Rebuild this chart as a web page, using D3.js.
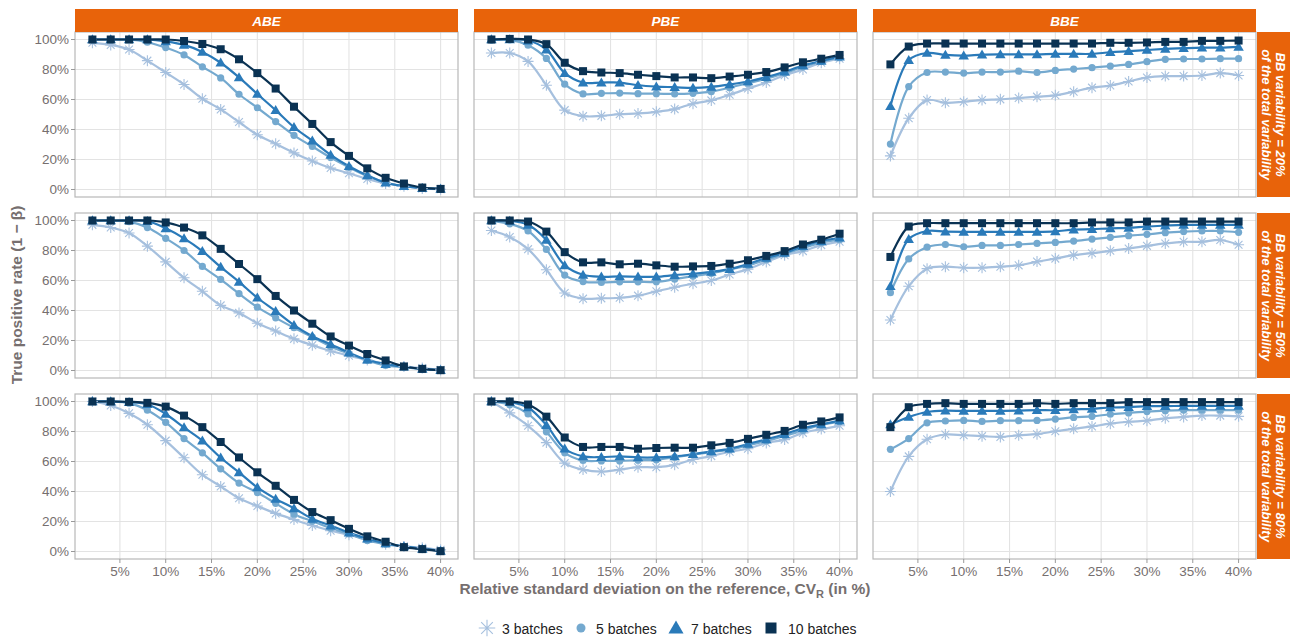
<!DOCTYPE html>
<html>
<head>
<meta charset="utf-8">
<script src="https://cdn.jsdelivr.net/npm/d3@7"></script>
<style>
  body { margin: 0; background: #fff; }
  svg { font-family: "Liberation Sans", Arial, sans-serif; }
</style>
</head>
<body>
<div id="chart"></div>
<script>
// CV on the reference (%)
const cvValues = [2, 4, 6, 8, 10, 12, 14, 16, 18, 20, 22, 24, 26, 28, 30, 32, 34, 36, 38, 40];
const methods = ["ABE", "PBE", "BBE"];
const bbLevels = ["20%", "50%", "80%"];
const batches = ["3 batches", "5 batches", "7 batches", "10 batches"];
const yTicks = [0, 20, 40, 60, 80, 100];
const xTicks = [5, 10, 15, 20, 25, 30, 35, 40];

// ABE, BB = 20%
const abe20_3  = [97.8, 96.4, 93.3, 85.9, 78, 70, 60.5, 53.4, 45, 36.5, 30.5, 24.4, 19, 14.3, 10.8, 7, 4, 2.2, 0.7, 0.2];
const abe20_5  = [100, 100, 100, 98.2, 94.6, 89.7, 81.8, 74.4, 63.5, 54.5, 45.3, 36.1, 28.7, 21.3, 14.8, 9, 4.7, 2.2, 1.1, 0.4];
const abe20_7  = [100, 100, 100, 100, 98.7, 96.4, 91.7, 84.5, 74.7, 63.7, 52.9, 41.5, 32.5, 23.1, 15.5, 9.4, 4.5, 2.2, 0.9, 0.4];
const abe20_10 = [100, 100, 100, 100, 100, 99, 97, 93.5, 86.8, 77.6, 67.3, 55.2, 43.7, 31.6, 22.4, 14.1, 7.8, 4, 1.3, 0.4];
// PBE, BB = 20%
const pbe20_3  = [91, 91, 85.4, 69.5, 52.9, 48.9, 49.1, 50.2, 50.7, 51.8, 53.6, 57.2, 59.4, 63.2, 67.3, 71.3, 76.2, 80, 84.5, 87.2];
const pbe20_5  = [99.6, 99.8, 96.2, 87.4, 70.2, 63.7, 64.1, 64.3, 63.9, 63.9, 63.7, 64.1, 65.2, 67.9, 70.9, 73.8, 77.6, 81.8, 85.4, 87.9];
const pbe20_7  = [100, 100, 99.3, 93.3, 77.6, 71.3, 71.3, 71.3, 69.5, 68.6, 68.2, 67.7, 68.4, 70, 72, 74.9, 78.5, 82.7, 85.7, 88.6];
const pbe20_10 = [100, 100.4, 100, 96.9, 84.5, 78.9, 78, 77.6, 76.5, 75.6, 74.7, 74.7, 74.2, 75.3, 76.5, 78.3, 81.4, 84.8, 87.2, 89.7];
// BBE, BB = 20%
const bbe20_3  = [22.4, 47.5, 59.6, 57.8, 58.5, 59.6, 60.1, 61, 61.9, 62.8, 65.2, 67.9, 69.3, 72, 74.7, 75.6, 75.6, 76, 77.6, 76];
const bbe20_5  = [30.3, 68.6, 78, 78.3, 77.6, 78.3, 78.3, 78.9, 78, 79.4, 80.3, 81.2, 82.3, 83.4, 85.2, 86.8, 87, 87, 87.2, 87.2];
const bbe20_7  = [55.6, 86.3, 91, 89.7, 89.2, 89.9, 90.1, 90.1, 90.1, 90.4, 90.4, 90.4, 91.5, 92.2, 93, 93.7, 94.2, 94.6, 94.6, 95.1];
const bbe20_10 = [83.4, 95.3, 97.3, 97.3, 97.3, 97.3, 97.3, 97.3, 97.3, 97.3, 97.3, 97.3, 97.8, 97.8, 98, 98.4, 98.4, 99.1, 99.1, 99.3];

// ABE, BB = 50%
const abe50_3  = [97.1, 95.3, 91.7, 82.9, 72.4, 61.8, 52.8, 43.4, 38.4, 31.5, 26.3, 21.1, 16.9, 13, 9.9, 7, 4.5, 2.7, 1.6, 0.4];
const abe50_5  = [99.8, 100, 99.3, 95.3, 88.1, 80, 69.4, 60.7, 51.2, 42.2, 35.1, 28.5, 22.2, 16, 11.2, 6.7, 3.4, 2.2, 0.9, 0.2];
const abe50_7  = [100, 100, 100, 99.6, 94.8, 88.1, 79.6, 69, 59.1, 48.5, 39.6, 30.3, 22.9, 17.5, 11.9, 7.2, 4.3, 2.5, 1.1, 0.2];
const abe50_10 = [100, 100, 100, 100, 98.7, 95.3, 90.1, 81.1, 71, 60.9, 49.7, 40, 31.2, 22.7, 16.6, 11, 6.7, 2.7, 1.1, 0.2];
// PBE, BB = 50%
const pbe50_3  = [93.3, 89, 80.9, 67.2, 51.7, 47.9, 48.1, 48.5, 49.9, 52.8, 55.5, 57.8, 60, 64, 67.6, 72.4, 76.9, 79.6, 83.6, 85.8];
const pbe50_5  = [99.8, 97.8, 93, 80.7, 63.6, 59.3, 58.7, 59.1, 59.1, 59.1, 60.9, 62.9, 64.7, 67.4, 70.1, 73.9, 77.8, 81.6, 85.2, 87.2];
const pbe50_7  = [100, 99.8, 97.1, 87, 70.1, 63.8, 62.5, 62.7, 62.5, 62.5, 63.6, 64.5, 65.8, 67.6, 71, 75.1, 78.4, 82.9, 86.3, 88.5];
const pbe50_10 = [100, 100, 99.3, 92.6, 78.9, 72.1, 72.1, 70.8, 71.2, 70.1, 69.2, 69.4, 69.7, 71.2, 73.5, 76.4, 79.6, 84, 87.2, 91.2];
// BBE, BB = 50%
const bbe50_3  = [33.7, 56.2, 67.9, 69.2, 68.5, 68.5, 69.2, 70.1, 72.6, 74.6, 76.9, 78.2, 79.8, 81.3, 83.1, 84.7, 85.8, 85.8, 87, 83.8];
const bbe50_5  = [51.9, 74.4, 82.2, 84, 82.5, 83.4, 83.4, 84, 84.7, 85.4, 86.3, 87.6, 88.8, 89.9, 90.8, 91.9, 92.6, 93, 93, 92.1];
const bbe50_7  = [56.2, 87.6, 93, 92.6, 92.4, 92.4, 92.4, 92.4, 92.4, 92.8, 93.9, 94.2, 94.8, 95.1, 96, 96.6, 97.1, 97.1, 97.1, 97.1];
const bbe50_10 = [75.7, 96, 98.2, 98.2, 98.2, 98.2, 98.2, 98.2, 98.2, 98.2, 98.2, 98.7, 98.7, 98.7, 99.3, 99.3, 99.3, 99.3, 99.3, 99.3];

// ABE, BB = 80%
const abe80_3  = [100, 97.3, 92.1, 84.5, 73.9, 62.5, 51.2, 43.4, 35.5, 30.3, 25.4, 21.3, 17.3, 13.9, 11.2, 8.3, 4.9, 3.4, 2.5, 1.1];
const abe80_5  = [100, 100, 98.9, 94.2, 86.1, 75.3, 65.8, 55.1, 45.6, 39.3, 32.1, 24.9, 20.2, 15.5, 11.7, 7.4, 4.9, 3.4, 1.8, 0.7];
const abe80_7  = [100, 100, 99.6, 98.2, 91.7, 82.7, 73.9, 62.5, 52.8, 42.7, 35.1, 28.8, 21.8, 17.3, 12.6, 8.5, 5.4, 3.4, 1.8, 0.4];
const abe80_10 = [100, 100, 99.8, 99.1, 96.6, 90.6, 82.9, 73, 62.7, 52.8, 43.8, 34.4, 26.3, 20.9, 15.1, 10.1, 6.5, 2.9, 1.6, 0.2];
// PBE, BB = 80%
const pbe80_3  = [100, 92.4, 83.8, 72.6, 58.9, 54.6, 53.3, 54.6, 56.2, 56.2, 57.8, 61.3, 63.6, 66.5, 68.5, 72.4, 74.6, 79.1, 81.6, 83.8];
const pbe80_5  = [100, 97.8, 91.7, 79.8, 65.8, 60.7, 60.4, 60.4, 60.9, 61.1, 62.9, 64.5, 66.3, 67.9, 70.8, 73.7, 77.1, 80.7, 84.3, 86.5];
const pbe80_7  = [100, 99.6, 96, 84.3, 68.5, 63.4, 62.9, 63.4, 62.7, 62.7, 63.4, 64.9, 66.7, 68.5, 71.7, 74.8, 78.2, 82.2, 84.7, 87.2];
const pbe80_10 = [100, 100, 98, 89.9, 76, 69.7, 69.7, 69.7, 68.5, 69, 69.2, 69.2, 70.8, 72.4, 75.1, 77.8, 80.4, 84.5, 86.7, 89.4];
// BBE, BB = 80%
const bbe80_3  = [40, 63.4, 74.8, 78, 77.5, 76.9, 76.4, 77.5, 78.2, 80.2, 81.8, 83.4, 85.2, 86.5, 87.2, 88.8, 89.7, 90.6, 90.6, 90.1];
const bbe80_5  = [68.1, 75.3, 85.8, 87, 87.4, 86.7, 87.2, 87.2, 87.4, 88.3, 89.4, 90.1, 91.5, 92.4, 93.3, 93.9, 94.2, 94.2, 94.2, 94.2];
const bbe80_7  = [84.7, 89.7, 93, 93.9, 93.7, 93.7, 93.7, 93.9, 94.2, 94.2, 94.8, 95.1, 96, 96.2, 96.9, 96.9, 97.1, 97.1, 97.1, 97.1];
const bbe80_10 = [82.9, 96.2, 98.4, 98.9, 98.4, 98.4, 98.4, 98.4, 98.9, 98.4, 98.9, 98.9, 98.9, 99.6, 99.6, 99.6, 99.6, 99.6, 99.6, 99.6];

const panelSeries = {
  "ABE|20%": [abe20_3, abe20_5, abe20_7, abe20_10],
  "PBE|20%": [pbe20_3, pbe20_5, pbe20_7, pbe20_10],
  "BBE|20%": [bbe20_3, bbe20_5, bbe20_7, bbe20_10],
  "ABE|50%": [abe50_3, abe50_5, abe50_7, abe50_10],
  "PBE|50%": [pbe50_3, pbe50_5, pbe50_7, pbe50_10],
  "BBE|50%": [bbe50_3, bbe50_5, bbe50_7, bbe50_10],
  "ABE|80%": [abe80_3, abe80_5, abe80_7, abe80_10],
  "PBE|80%": [pbe80_3, pbe80_5, pbe80_7, pbe80_10],
  "BBE|80%": [bbe80_3, bbe80_5, bbe80_7, bbe80_10]
};

const colors = ["#a6c0de", "#74a9cf", "#2a7ab9", "#0a3253"];
const shapes = ["asterisk", "circle", "triangle", "square"];

const W = 1290, H = 638;
const panelLeft = [75, 474, 873];
const panelTop = [32, 213, 394];
const pw = 383, ph = 165;
const textCol = "#766f6f";
const orange = "#e8630a";

const svg = d3.select("#chart").append("svg")
  .attr("width", W).attr("height", H);

const x = d3.scaleLinear().domain([0.1, 41.9]).range([0, pw]);
const y = d3.scaleLinear().domain([-5, 105]).range([ph, 0]);

// draws a marker shape centred on 0,0
function drawMarker(g, shape, color, s) {
  if (shape === "circle") {
    g.append("circle").attr("r", s * 0.45).attr("fill", color);
  } else if (shape === "square") {
    g.append("rect").attr("x", -s / 2).attr("y", -s / 2)
      .attr("width", s).attr("height", s).attr("fill", color);
  } else if (shape === "triangle") {
    const h = s * 0.95;
    g.append("path")
      .attr("d", `M0,${-h * 0.6}L${s * 0.58},${h * 0.45}L${-s * 0.58},${h * 0.45}Z`)
      .attr("fill", color);
  } else {
    const r = s * 0.55, d = r * 0.7071;
    g.append("path")
      .attr("d", `M${-r},0H${r}M0,${-r}V${r}M${-d},${-d}L${d},${d}M${-d},${d}L${d},${-d}`)
      .attr("stroke", color).attr("stroke-width", 1.1).attr("fill", "none");
  }
}

const line = d3.line()
  .x((d, i) => x(cvValues[i]))
  .y(d => y(d))
  .curve(d3.curveCatmullRom.alpha(0.5));

const markerSize = [10, 8, 9, 8];

bbLevels.forEach((bb, r) => {
  methods.forEach((m, c) => {
    const g = svg.append("g")
      .attr("transform", `translate(${panelLeft[c]},${panelTop[r]})`);

    // grid
    g.selectAll(".gy").data(yTicks).enter().append("line")
      .attr("x1", 0).attr("x2", pw)
      .attr("y1", d => y(d)).attr("y2", d => y(d))
      .attr("stroke", "#e3e3e3").attr("stroke-width", 1.1);
    g.selectAll(".gx").data(xTicks).enter().append("line")
      .attr("y1", 0).attr("y2", ph)
      .attr("x1", d => x(d)).attr("x2", d => x(d))
      .attr("stroke", "#e3e3e3").attr("stroke-width", 1.1);

    // series
    panelSeries[m + "|" + bb].forEach((vals, k) => {
      g.append("path")
        .attr("d", line(vals))
        .attr("fill", "none")
        .attr("stroke", colors[k])
        .attr("stroke-width", 2.2);
    });
    panelSeries[m + "|" + bb].forEach((vals, k) => {
      vals.forEach((v, i) => {
        const mg = g.append("g")
          .attr("transform", `translate(${x(cvValues[i])},${y(v)})`);
        drawMarker(mg, shapes[k], colors[k], markerSize[k]);
      });
    });

    // border
    g.append("rect").attr("width", pw).attr("height", ph)
      .attr("fill", "none").attr("stroke", "#b8b8b8").attr("stroke-width", 1.2);

    // top strip
    if (r === 0) {
      svg.append("rect")
        .attr("x", panelLeft[c]).attr("y", 9)
        .attr("width", pw).attr("height", 23)
        .attr("fill", orange);
      svg.append("text")
        .attr("x", panelLeft[c] + pw / 2).attr("y", 21)
        .attr("text-anchor", "middle").attr("dominant-baseline", "central")
        .attr("fill", "#fff").attr("font-size", 13.5)
        .attr("font-weight", "bold").attr("font-style", "italic")
        .text(m);
    }

    // y axis
    if (c === 0) {
      const ya = g.append("g");
      yTicks.forEach(t => {
        ya.append("line").attr("x1", -4).attr("x2", 0)
          .attr("y1", y(t)).attr("y2", y(t)).attr("stroke", "#999");
        ya.append("text").attr("x", -6).attr("y", y(t))
          .attr("text-anchor", "end").attr("dominant-baseline", "central")
          .attr("fill", textCol).attr("font-size", 13.5)
          .text(t + "%");
      });
    }

    // x axis
    if (r === 2) {
      const xa = g.append("g");
      xTicks.forEach(t => {
        xa.append("line").attr("x1", x(t)).attr("x2", x(t))
          .attr("y1", ph).attr("y2", ph + 4).attr("stroke", "#999");
        xa.append("text").attr("x", x(t)).attr("y", ph + 12)
          .attr("text-anchor", "middle").attr("dominant-baseline", "central")
          .attr("fill", textCol).attr("font-size", 13.5)
          .text(t + "%");
      });
    }

    // right strip
    if (c === 2) {
      const sx = panelLeft[c] + pw + 1;
      svg.append("rect")
        .attr("x", sx).attr("y", panelTop[r])
        .attr("width", W - sx).attr("height", ph)
        .attr("fill", orange);
      const st = svg.append("text")
        .attr("transform", `translate(${sx + 16},${panelTop[r] + ph / 2}) rotate(90)`)
        .attr("text-anchor", "middle")
        .attr("fill", "#fff").attr("font-size", 13)
        .attr("font-weight", "bold").attr("font-style", "italic");
      st.append("tspan").attr("x", 0).attr("dy", -3)
        .text("BB variability = " + bb);
      st.append("tspan").attr("x", 0).attr("dy", 14)
        .text("of the total variability");
    }
  });
});

// axis titles
const xt = svg.append("text")
  .attr("x", 665).attr("y", 594)
  .attr("text-anchor", "middle")
  .attr("fill", textCol).attr("font-size", 15.5).attr("font-weight", "bold");
xt.append("tspan").text("Relative standard deviation on the reference, CV");
xt.append("tspan").attr("font-size", 11).attr("dy", 4).text("R");
xt.append("tspan").attr("dy", -4).text(" (in %)");

svg.append("text")
  .attr("transform", "translate(22,295) rotate(-90)")
  .attr("text-anchor", "middle")
  .attr("fill", textCol).attr("font-size", 15.5).attr("font-weight", "bold")
  .text("True positive rate (1 \u2212 \u03B2)");

// legend
const legendX = [487, 581, 676, 771];
const legendSize = [15, 10, 13, 11];
batches.forEach((b, k) => {
  const lg = svg.append("g").attr("transform", `translate(${legendX[k]},628)`);
  drawMarker(lg, shapes[k], colors[k], legendSize[k]);
  svg.append("text")
    .attr("x", legendX[k] + (k === 3 ? 17 : 15)).attr("y", 629)
    .attr("dominant-baseline", "central")
    .attr("fill", "#222").attr("font-size", 14)
    .text(b);
});
</script>
</body>
</html>
